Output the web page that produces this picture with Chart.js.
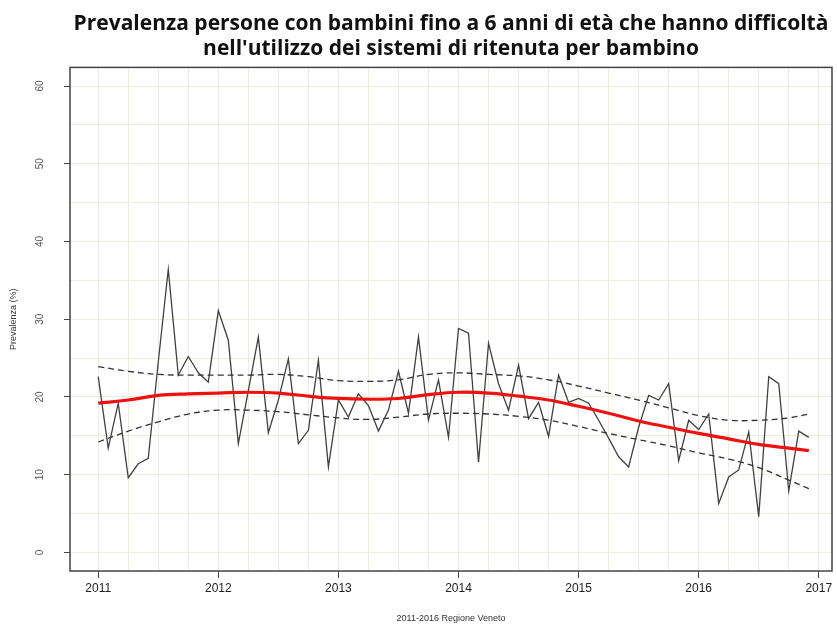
<!DOCTYPE html>
<html>
<head>
<meta charset="utf-8">
<script src="https://cdn.jsdelivr.net/npm/chart.js@4"></script>
<style>
  body { margin: 0; background: #fff; }
  canvas { display: block; }
</style>
</head>
<body>
<canvas id="chart" width="837" height="632"></canvas>
<script>
// prevalenza mensile 2011-2016 (gen 2011 .. dic 2016)
const firstYear = 2011;
const prevalenza = [
  22.6, 13.4, 19.2, 9.6, 11.4, 12.1, 24.5, 36.4, 22.8, 25.2, 23.1, 21.9,
  31.1, 27.3, 14.0, 20.8, 27.7, 15.4, 19.6, 24.9, 14.0, 15.7, 24.7, 11.0,
  19.6, 17.4, 20.4, 18.9, 15.6, 18.3, 23.3, 17.9, 27.7, 17.0, 22.2, 14.8,
  28.8, 28.2, 11.6, 26.9, 21.7, 18.3, 24.1, 17.2, 19.3, 14.9, 22.8, 19.3,
  19.8, 19.2, 17.0, 14.7, 12.3, 11.0, 16.1, 20.2, 19.6, 21.7, 11.8, 17.0,
  15.8, 17.8, 6.3, 9.7, 10.6, 15.5, 4.6, 22.6, 21.7, 7.9, 15.6, 14.8
];

// curva di tendenza e intervallo (letti ogni trimestre)
const trendYears = [
  2011, 2011.25, 2011.5, 2011.75, 2012, 2012.25, 2012.5, 2012.75,
  2013, 2013.25, 2013.5, 2013.75, 2014, 2014.25, 2014.5, 2014.75,
  2015, 2015.25, 2015.5, 2015.75, 2016, 2016.25, 2016.5, 2016.75, 2016.917
];
const trend = [
  19.2, 19.6, 20.2, 20.4, 20.5, 20.6, 20.5, 20.1,
  19.8, 19.7, 19.8, 20.3, 20.6, 20.5, 20.1, 19.6,
  18.8, 17.9, 16.9, 16.1, 15.3, 14.6, 13.9, 13.4, 13.1
];
const upper = [
  23.9, 23.3, 22.9, 22.8, 22.8, 22.8, 22.9, 22.6,
  22.1, 22.0, 22.2, 22.9, 23.1, 22.9, 22.7, 22.2,
  21.4, 20.5, 19.6, 18.6, 17.6, 17.0, 17.0, 17.3, 17.8
];
const lower = [
  14.2, 15.6, 16.8, 17.8, 18.3, 18.3, 18.1, 17.7,
  17.3, 17.1, 17.4, 17.8, 17.9, 17.8, 17.5, 17.0,
  16.2, 15.3, 14.5, 13.7, 12.8, 12.0, 10.9, 9.3, 8.2
];

const yearTicks = [2011, 2012, 2013, 2014, 2015, 2016, 2017];
const yTicks = [0, 10, 20, 30, 40, 50, 60];

const monthly = prevalenza.map((v, i) => ({ x: firstYear + i / 12, y: v }));
const toPoints = arr => arr.map((v, i) => ({ x: trendYears[i], y: v }));

const gridColor = '#eeecdb';
const axisColor = '#444';

// riquadro intorno all'area del grafico
const boxPlugin = {
  id: 'box',
  afterDraw(chart) {
    const a = chart.chartArea;
    const ctx = chart.ctx;
    ctx.save();
    ctx.strokeStyle = axisColor;
    ctx.lineWidth = 1.5;
    ctx.strokeRect(a.left, a.top, a.right - a.left, a.bottom - a.top);
    ctx.restore();
  }
};

new Chart(document.getElementById('chart').getContext('2d'), {
  type: 'line',
  data: {
    datasets: [{
      label: 'tendenza',
      data: toPoints(trend),
      borderColor: '#ee1111',
      borderWidth: 3.2,
      pointRadius: 0,
      tension: 0.4,
      order: 0
    }, {
      label: 'sup',
      data: toPoints(upper),
      borderColor: '#333',
      borderWidth: 1.3,
      borderDash: [6, 4],
      pointRadius: 0,
      tension: 0.4,
      order: 1
    }, {
      label: 'inf',
      data: toPoints(lower),
      borderColor: '#333',
      borderWidth: 1.3,
      borderDash: [6, 4],
      pointRadius: 0,
      tension: 0.4,
      order: 2
    }, {
      label: 'prevalenza',
      data: monthly,
      borderColor: '#404040',
      borderWidth: 1.3,
      pointRadius: 0,
      tension: 0,
      order: 3
    }]
  },
  options: {
    responsive: false,
    animation: false,
    layout: { padding: { top: 0, right: 5, left: 0, bottom: 0 } },
    plugins: {
      legend: { display: false },
      tooltip: { enabled: false },
      title: {
        display: true,
        fullSize: false,
        text: ['Prevalenza persone con bambini fino a 6 anni di età che hanno difficoltà',
               "nell'utilizzo dei sistemi di ritenuta per bambino"],
        color: '#111',
        font: { family: 'Open Sans', size: 21, weight: 'bold', lineHeight: 1.2 },
        padding: { top: 11, bottom: 6 }
      }
    },
    scales: {
      x: {
        type: 'linear',
        min: 2010.765,
        max: 2017.11,
        afterFit(scale) { scale.height = 61; },
        border: { display: false },
        grid: {
          color: gridColor,
          lineWidth: 1,
          tickLength: 7,
          tickColor: ctx => yearTicks.includes(ctx.tick && ctx.tick.value) ? axisColor : 'transparent'
        },
        ticks: {
          stepSize: 0.25,
          includeBounds: false,
          autoSkip: false,
          maxRotation: 0,
          padding: 3,
          color: '#222',
          font: { family: 'Liberation Sans', size: 12 },
          callback: v => yearTicks.includes(v) ? String(v) : ''
        },
        title: {
          display: true,
          text: '2011-2016 Regione Veneto',
          color: '#333',
          font: { family: 'Liberation Sans', size: 9 },
          padding: { top: 2, bottom: 8 }
        }
      },
      y: {
        min: -2.4,
        max: 62.4,
        afterFit(scale) { scale.width = 70; },
        border: { display: false },
        grid: {
          color: gridColor,
          lineWidth: 1,
          tickLength: 6,
          tickColor: ctx => yTicks.includes(ctx.tick && ctx.tick.value) ? axisColor : 'transparent'
        },
        ticks: {
          stepSize: 5,
          includeBounds: false,
          autoSkip: false,
          minRotation: 90,
          maxRotation: 90,
          crossAlign: 'center',
          padding: 18,
          color: '#555',
          font: { family: 'Liberation Sans', size: 10 },
          callback: v => yTicks.includes(v) ? String(v) : ''
        },
        title: {
          display: true,
          text: 'Prevalenza (%)',
          color: '#333',
          font: { family: 'Liberation Sans', size: 9 },
          padding: { top: 8, bottom: 4 }
        }
      }
    }
  },
  plugins: [boxPlugin]
});
</script>
</body>
</html>
